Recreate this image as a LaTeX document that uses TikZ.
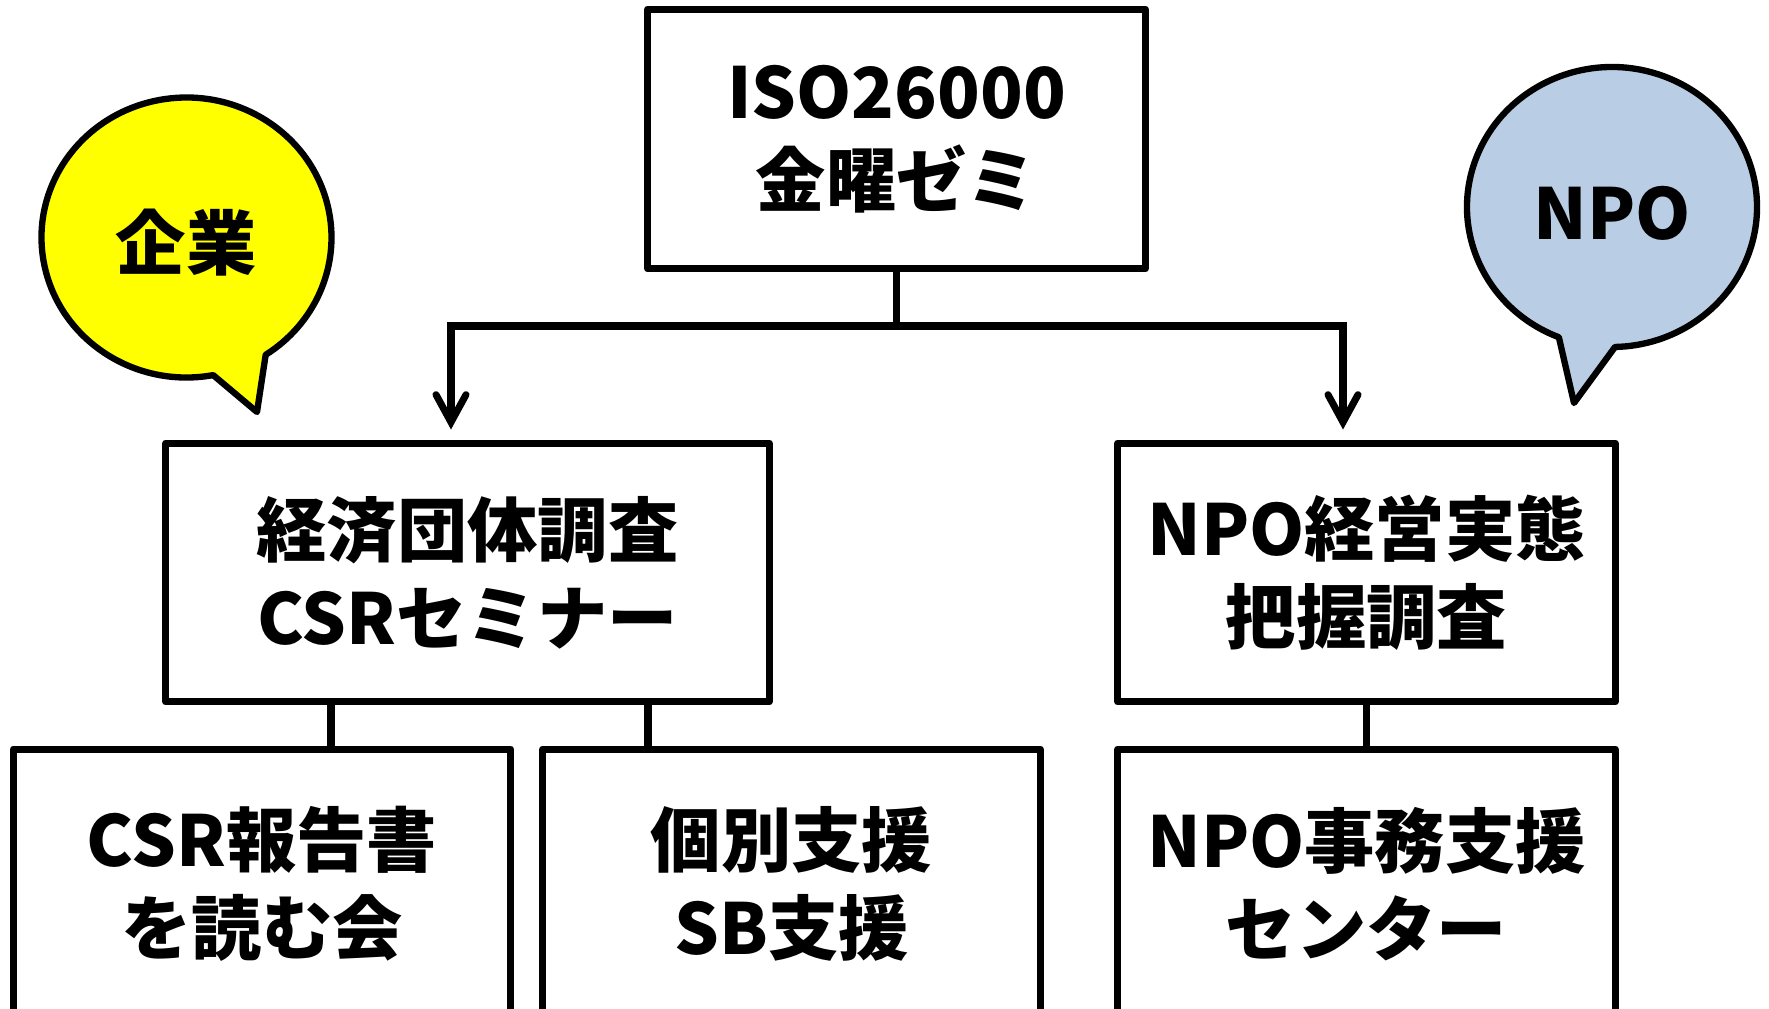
\documentclass[tikz,border=0pt]{standalone}
\usepackage{fontspec}
\IfFontExistsTF{Noto Sans CJK JP Black}
  {\setmainfont{Noto Sans CJK JP}[BoldFont={Noto Sans CJK JP Black}]}
  {\setmainfont{Noto Sans CJK JP}[BoldFont={Noto Sans CJK JP Bold}]}
\usetikzlibrary{arrows.meta}
\definecolor{bubbleyellow}{RGB}{255,255,0}
\definecolor{bubbleblue}{RGB}{185,205,228}
\tikzset{
  box/.style={draw, line width=4pt, line join=round, minimum width=9.95cm, minimum height=5.2cm,
    align=center, inner sep=0pt, font=\bfseries\fontsize{40}{50}\selectfont},
  link/.style={line width=4pt},
  barb/.style={{Straight Barb[length=0.55cm, width=0.6cm, line cap=round]}-{Straight Barb[length=0.55cm, width=0.6cm, line cap=round]}},
  bubble/.style={draw, line width=3.6pt, line join=round},
  bubbletext/.style={font=\bfseries\fontsize{40}{50}\selectfont}
}
\begin{document}
\begin{tikzpicture}[x=0.02cm, y=-0.02cm]
\useasboundingbox (0,0) rectangle (1769,1008);
% speech bubbles
\draw[bubble, fill=bubbleyellow] (186.5,237.5) ++(79.4:145 and 140)
  arc[start angle=79.4, end angle=416.9, x radius=145, y radius=140] -- (257,412) -- cycle;
\node[bubbletext] (kigyo) at (186,243) {企業};
\draw[bubble, fill=bubbleblue] (1612,207) ++(111.5:145 and 140)
  arc[start angle=111.5, end angle=448.8, x radius=145, y radius=140] -- (1574,403) -- cycle;
\node[bubbletext] (npo) at (1612,213) {NPO};
% boxes
\node[box] (iso) at (896.5,139) {ISO26000\\金曜ゼミ};
\node[box, minimum width=12.07cm, minimum height=5.18cm] (keizai) at (467.5,572.5) {経済団体調査\\CSRセミナー};
\node[box, minimum height=5.18cm] (npochosa) at (1366.5,572.5) {NPO経営実態\\把握調査};
\node[box, minimum height=5.4cm] (csr) at (262,884) {CSR報告書\\を読む会};
\node[box, minimum height=5.4cm] (kobetsu) at (791.5,884) {個別支援\\SB支援};
\node[box, minimum height=5.4cm] (npocenter) at (1366.5,884) {NPO事務支援\\センター};
% connectors
\coordinate (jl) at (451,326);
\coordinate (jr) at (1343,326);
\coordinate (ka) at (331,0);
\coordinate (kb) at (648,0);
\draw[link] (iso.south) -- (iso.south |- jl);
\draw[link, barb, shorten <=0.2cm, shorten >=0.2cm] (jr |- npochosa.north) -- (jr) -- (jl) -- (jl |- keizai.north);
\draw[link] (ka |- keizai.south) -- (ka |- csr.north);
\draw[link] (kb |- keizai.south) -- (kb |- kobetsu.north);
\draw[link] (npochosa.south) -- (npocenter.north);
\end{tikzpicture}
\end{document}
